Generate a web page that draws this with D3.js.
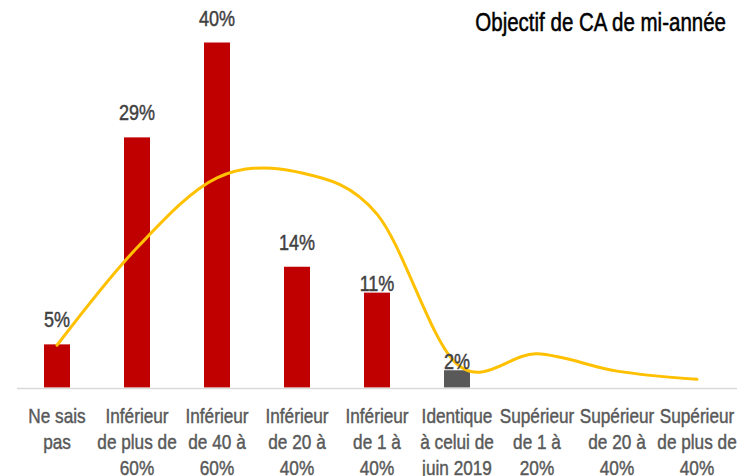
<!DOCTYPE html>
<html>
<head>
<meta charset="utf-8">
<script src="https://cdn.jsdelivr.net/npm/d3@7"></script>
<style>
  html, body { margin: 0; padding: 0; background: #fff; }
  svg { display: block; }
  text { font-family: "Liberation Sans Narrow", "Liberation Sans", Arial, sans-serif; }
</style>
</head>
<body>
<svg id="chart" width="739" height="476"></svg>
<script>
// ---- data ----
const title = "Objectif de CA de mi-année";
const categories = [
  "Ne sais\npas",
  "Inférieur\nde plus de\n60%",
  "Inférieur\nde 40 à\n60%",
  "Inférieur\nde 20 à\n40%",
  "Inférieur\nde 1 à\n40%",
  "Identique\nà celui de\njuin 2019",
  "Supérieur\nde 1 à\n20%",
  "Supérieur\nde 20 à\n40%",
  "Supérieur\nde plus de\n40%"
];
const barValues = [5, 29, 40, 14, 11, 2, null, null, null];
const barLabels = ["5%", "29%", "40%", "14%", "11%", "2%", "", "", ""];
const lineValues = [4.9, 16.2, 24.3, 25.0, 20.1, 2.7, 3.9, 1.9, 0.95];
const highlightCategory = "Identique\nà celui de\njuin 2019";
const tightLabels = ["Inférieur\nde 1 à\n40%", "Identique\nà celui de\njuin 2019"];

// ---- drawing ----
const svg = d3.select("#chart");
const baseY = 387.5;
const pxPerUnit = 8.625;
const squeeze = 0.82; // condensed look

const x = d3.scaleBand()
  .domain(categories)
  .range([17, 737])
  .paddingInner(0.675)
  .paddingOuter(0.3375);

const y = d3.scaleLinear()
  .domain([0, 45])
  .range([baseY, baseY - 45 * pxPerUnit]);

const cx = c => x(c) + x.bandwidth() / 2;

// bars
const barData = categories.map((c, i) => ({ c, v: barValues[i], label: barLabels[i] }))
  .filter(d => d.v != null);

svg.append("g").selectAll("rect")
  .data(barData)
  .join("rect")
  .attr("x", d => x(d.c))
  .attr("width", x.bandwidth())
  .attr("y", d => y(d.v))
  .attr("height", d => y(0) - y(d.v))
  .attr("fill", d => d.c === highlightCategory ? "#595959" : "#C00000");

// axis baseline
svg.append("line")
  .attr("x1", 17).attr("x2", 737)
  .attr("y1", baseY + 1).attr("y2", baseY + 1)
  .attr("stroke", "#d9d9d9")
  .attr("stroke-width", 1.5);

// smoothed line
const lineGen = d3.line()
  .x((d, i) => cx(categories[i]))
  .y(d => y(d))
  .curve(d3.curveCardinal.tension(0));

svg.append("path")
  .datum(lineValues)
  .attr("d", lineGen)
  .attr("fill", "none")
  .attr("stroke", "#FFC000")
  .attr("stroke-width", 3)
  .attr("stroke-linecap", "round");

// data labels
svg.append("g").selectAll("g")
  .data(barData)
  .join("g")
  .attr("transform", d => `translate(${cx(d.c)},${y(d.v) - (tightLabels.includes(d.c) ? 1.5 : 17)}) scale(${squeeze},1)`)
  .append("text")
  .attr("x", 0)
  .attr("y", 0)
  .attr("text-anchor", "middle")
  .attr("font-size", 22)
  .attr("fill", "#404040")
  .attr("stroke", "#404040")
  .attr("stroke-width", 0.45)
  .text(d => d.label);

// category labels
const catG = svg.append("g").selectAll("g")
  .data(categories)
  .join("g")
  .attr("transform", c => `translate(${cx(c)},0) scale(${squeeze},1)`);

catG.each(function(c) {
  const t = d3.select(this).append("text")
    .attr("text-anchor", "middle")
    .attr("font-size", 21)
    .attr("fill", "#595959")
    .attr("stroke", "#595959")
    .attr("stroke-width", 0.45);
  c.split("\n").forEach((line, i) => {
    t.append("tspan")
      .attr("x", 0)
      .attr("y", 423 + i * 26)
      .text(line);
  });
});

// title
svg.append("g")
  .attr("transform", `translate(726,30.5) scale(${squeeze},1)`)
  .append("text")
  .attr("x", 0)
  .attr("y", 0)
  .attr("text-anchor", "end")
  .attr("font-size", 25)
  .attr("fill", "#000")
  .attr("stroke", "#000")
  .attr("stroke-width", 0.5)
  .text(title);
</script>
</body>
</html>
